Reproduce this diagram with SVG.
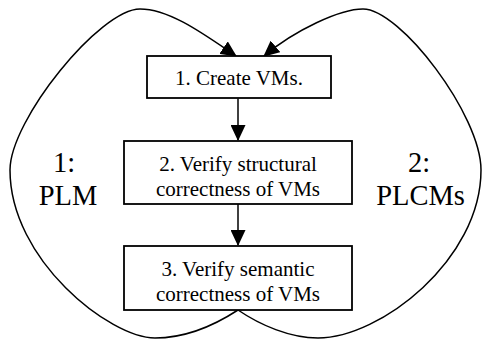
<svg xmlns="http://www.w3.org/2000/svg" width="483" height="339" viewBox="0 0 483 339">
<style>
  .box { fill: #ffffff; stroke: #000000; stroke-width: 1.8; }
  .txt { font-family: "Liberation Serif", "Times New Roman", serif; font-size: 21px; fill: #000000; text-anchor: middle; }
  .lbl { font-family: "Liberation Serif", "Times New Roman", serif; font-size: 28.5px; fill: #000000; text-anchor: middle; }
  .edge { fill: none; stroke: #000000; stroke-width: 1.5; }
</style>
<defs>
  <marker id="arrow" markerUnits="userSpaceOnUse" markerWidth="16" markerHeight="15" viewBox="0 0 16 15" refX="15" refY="7.5" orient="auto">
    <path d="M0,0 L16,7.5 L0,15 z" fill="#000000"/>
  </marker>
</defs>
<g id="connectors">
  <path id="e-1-2" class="edge" d="M238,98.5 L238,140" marker-end="url(#arrow)"/>
  <path id="e-2-3" class="edge" d="M238,204 L238,245" marker-end="url(#arrow)"/>
  <path id="loop-plm" class="edge" d="M238,310 C 215,325 185,338 155,338 C 110,338 10,260 10,170 C 10,120 100,9 140,9 C 170,9 205,35 236,56" marker-end="url(#arrow)"/>
  <path id="loop-plcms" class="edge" d="M238,310 C 260,325 290,338 318,338 C 380,338 481,260 481,170 C 481,115 400,9 363,9 C 340,9 295,30 264,56" marker-end="url(#arrow)"/>
  <g id="label-plm">
    <text class="lbl" x="64" y="172">1:</text>
    <text class="lbl" x="68" y="205">PLM</text>
  </g>
  <g id="label-plcms">
    <text class="lbl" x="419" y="172">2:</text>
    <text class="lbl" x="420.5" y="205">PLCMs</text>
  </g>
</g>
<g id="node-create">
  <rect class="box" x="147" y="56" width="184" height="42"/>
  <text class="txt" x="239" y="85">1. Create VMs.</text>
</g>
<g id="node-structural">
  <rect class="box" x="124" y="141" width="228" height="63"/>
  <text class="txt" x="238" y="171">2. Verify structural</text>
  <text class="txt" x="238" y="196">correctness of VMs</text>
</g>
<g id="node-semantic">
  <rect class="box" x="124" y="246" width="228" height="64"/>
  <text class="txt" x="238" y="276">3. Verify semantic</text>
  <text class="txt" x="238" y="301">correctness of VMs</text>
</g>
</svg>
